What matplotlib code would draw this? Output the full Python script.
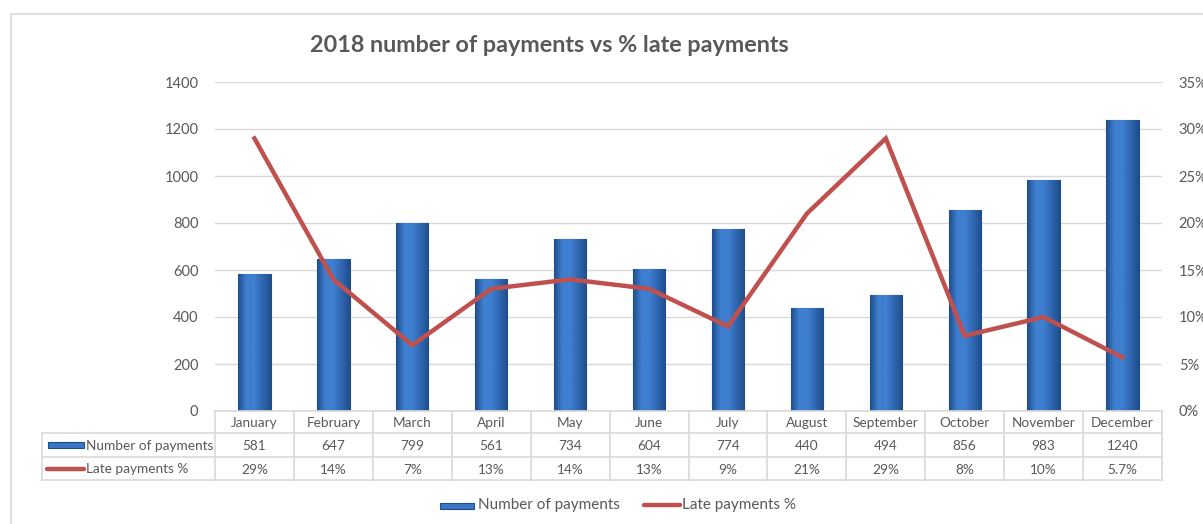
import numpy as np
import matplotlib.pyplot as plt
from matplotlib.patches import Rectangle
from matplotlib.lines import Line2D
from matplotlib.colors import LinearSegmentedColormap

plt.rcParams['font.family'] = ['Lato', 'DejaVu Sans']

months = ['January', 'February', 'March', 'April', 'May', 'June', 'July',
          'August', 'September', 'October', 'November', 'December']
payments = [581, 647, 799, 561, 734, 604, 774, 440, 494, 856, 983, 1240]
late_pct = [29, 14, 7, 13, 14, 13, 9, 21, 29, 8, 10, 5.7]
late_labels = ['29%', '14%', '7%', '13%', '14%', '13%', '9%', '21%', '29%',
               '8%', '10%', '5.7%']

W, H = 1203, 524
fig = plt.figure(figsize=(W / 100, H / 100), dpi=100)

# chart frame (cut off at right/bottom like the screenshot)
fig.patches.append(Rectangle((11 / W, -0.1), 1.2, (H - 14) / H + 0.1,
                             transform=fig.transFigure, fill=False,
                             edgecolor='#D9D9D9', lw=1.2))

ax = fig.add_axes([215 / W, (H - 411) / H, (1162 - 215) / W, (411 - 82) / H])
x = np.arange(len(months))
bw = 0.41

bars = ax.bar(x, payments, width=bw, color='#3A75C4', edgecolor='#1F4E8C',
              lw=0.8, zorder=3)
# bevelled gradient fill for the bars
cmap = LinearSegmentedColormap.from_list(
    'bev', ['#1F4E8C', '#3F7FD0', '#3F7FD0', '#2F66B0', '#1F4E8C'])
grad = np.linspace(0, 1, 64).reshape(1, -1)
for b in bars:
    im = ax.imshow(grad, cmap=cmap, aspect='auto', zorder=3.5,
                   extent=[b.get_x(), b.get_x() + b.get_width(), 0, b.get_height()])
    im.set_clip_path(b)

ax.set_xlim(-0.5, len(months) - 0.5)
ax.set_ylim(0, 1400)
ax.set_yticks(range(0, 1401, 200))
ax.grid(axis='y', color='#D9D9D9', lw=1, zorder=0)
ax.set_xticks([])
for s in ax.spines.values():
    s.set_visible(False)
ax.tick_params(axis='y', length=0, pad=12, labelsize=10.5, labelcolor='#595959')

ax2 = ax.twinx()
ax2.plot(x, late_pct, color='#C0504D', lw=3.2, zorder=5,
         solid_joinstyle='miter')
ax2.set_ylim(0, 35)
ax2.set_yticks(range(0, 36, 5))
ax2.set_yticklabels([f'{v}%' for v in range(0, 36, 5)])
for s in ax2.spines.values():
    s.set_visible(False)
ax2.tick_params(axis='y', length=0, pad=12, labelsize=10.5, labelcolor='#595959')
ax2.set_xlim(-0.5, len(months) - 0.5)

# data table under the axes
tc = '#D9D9D9'
txtc = '#595959'
fs_t = 9.8
ys = [411, 433, 457, 480]  # row boundaries in pixels
def fy(py):
    return (H - py) / H
trf = fig.transFigure
left_px = 42
for i, py in enumerate(ys):
    x0 = 215 if i == 0 else left_px
    fig.add_artist(Line2D([x0 / W, 1162 / W], [fy(py), fy(py)], color=tc, lw=1.2))
for k in range(13):
    px = 215 + k * (1162 - 215) / 12
    fig.add_artist(Line2D([px / W, px / W], [fy(ys[0]), fy(ys[-1])], color=tc, lw=1.2))
fig.add_artist(Line2D([left_px / W, left_px / W], [fy(ys[1]), fy(ys[-1])], color=tc, lw=1.2))

for i, m in enumerate(months):
    cx = (215 + (i + 0.5) * (1162 - 215) / 12) / W
    fig.text(cx, fy((ys[0] + ys[1]) / 2 + 1), m, ha='center', va='center',
             fontsize=fs_t, color=txtc)
    fig.text(cx, fy((ys[1] + ys[2]) / 2 + 1), str(payments[i]), ha='center',
             va='center', fontsize=fs_t, color=txtc)
    fig.text(cx, fy((ys[2] + ys[3]) / 2 + 1), late_labels[i], ha='center',
             va='center', fontsize=fs_t, color=txtc)

# legend keys in table
fig.patches.append(Rectangle((48 / W, fy(448)), 36 / W, 6 / H, transform=trf,
                             facecolor='#3A75C4', edgecolor='#1F4E8C', lw=0.8))
fig.add_artist(Line2D([47 / W, 84 / W], [fy(469), fy(469)], color='#C0504D',
                      lw=3.2, solid_capstyle='round'))
fig.text(86 / W, fy(446), 'Number of payments', ha='left', va='center',
         fontsize=fs_t, color=txtc)
fig.text(86 / W, fy(469), 'Late payments %', ha='left', va='center',
         fontsize=fs_t, color=txtc)

# bottom legend
fig.patches.append(Rectangle((440 / W, fy(509)), 34 / W, 6 / H, transform=trf,
                             facecolor='#3A75C4', edgecolor='#1F4E8C', lw=0.8))
fig.text(478 / W, fy(505), 'Number of payments', ha='left', va='center',
         fontsize=11, color=txtc)
fig.add_artist(Line2D([644 / W, 680 / W], [fy(505), fy(505)], color='#C0504D',
                      lw=3.2, solid_capstyle='round'))
fig.text(682 / W, fy(505), 'Late payments %', ha='left', va='center',
         fontsize=11, color=txtc)

fig.text(549 / W, fy(45), '2018 number of payments vs % late payments',
         ha='center', va='center', fontsize=16.8, fontweight='bold', color='#595959')

fig.savefig('out.png', dpi=100)
